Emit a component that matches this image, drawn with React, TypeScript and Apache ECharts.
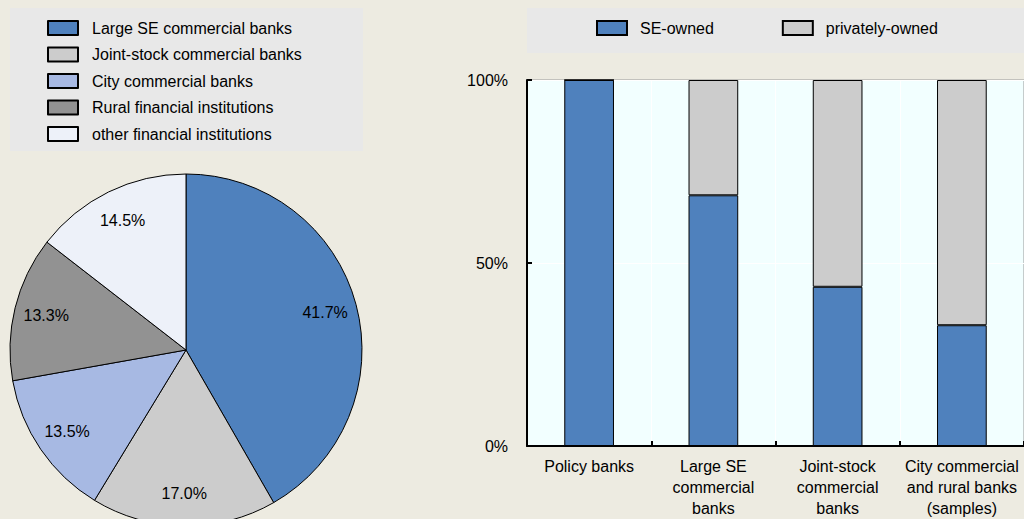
import React, { useEffect, useRef } from "react";
import * as echarts from "echarts";

const pieNames = [
  "Large SE commercial banks",
  "Joint-stock commercial banks",
  "City commercial banks",
  "Rural financial institutions",
  "other financial institutions",
];
const pieValues = [41.7, 17.0, 13.5, 13.3, 14.5];
const pieColors = ["#4F81BD", "#CCCCCC", "#A7B9E3", "#929292", "#EDF1F9"];

const barCategories = [
  "Policy banks",
  "Large SE\ncommercial\nbanks",
  "Joint-stock\ncommercial\nbanks",
  "City commercial\nand rural banks\n(samples)",
];
const seOwned = [100, 68.5, 43.5, 33];
const privatelyOwned = [0, 31.5, 56.5, 67];
const barSeriesNames = ["SE-owned", "privately-owned"];
const barColors = ["#4F81BD", "#CCCCCC"];
const yTicks = [0, 50, 100];

const FONT = "'Liberation Sans', Arial, sans-serif";

export default function App() {
  const ref = useRef<HTMLDivElement>(null);
  useEffect(() => {
    if (!ref.current) return;
    const chart = echarts.init(ref.current, null, { renderer: "svg" });
    const option: any = {
      animation: false,
      backgroundColor: "#EDEBE1",
      textStyle: { fontFamily: FONT, color: "#000" },
      graphic: [
        { type: "rect", z: -10, shape: { x: 10, y: 8, width: 353, height: 143 }, style: { fill: "#E8E8E8" } },
        { type: "rect", z: -10, shape: { x: 527, y: 8, width: 497, height: 45 }, style: { fill: "#E8E8E8" } },
      ],
      legend: [
        {
          orient: "vertical",
          left: 42,
          top: 15,
          itemWidth: 30,
          itemHeight: 14,
          itemGap: 10.5,
          icon: "rect",
          data: pieNames,
          textStyle: { fontSize: 16, fontFamily: FONT, color: "#000", padding: [0, 0, 0, 9] },
          selectedMode: false,
        },
        {
          orient: "horizontal",
          left: 591,
          top: 15,
          itemWidth: 30,
          itemHeight: 14,
          itemGap: 68,
          icon: "rect",
          data: barSeriesNames,
          textStyle: { fontSize: 16, fontFamily: FONT, color: "#000", padding: [0, 0, 0, 8] },
          selectedMode: false,
        },
      ],
      grid: {
        left: 527,
        top: 80,
        width: 502,
        height: 370,
        show: true,
        backgroundColor: "#F2FFFF",
        borderColor: "#999",
        borderWidth: 1,
        containLabel: false,
      },
      xAxis: {
        type: "category",
        data: barCategories,
        axisLine: { lineStyle: { color: "#000", width: 2 } },
        axisTick: { show: true, inside: true, length: 5, lineStyle: { color: "#000", width: 2 } },
        splitLine: { show: true, lineStyle: { color: "#FFFFFF", width: 1 } },
        axisLabel: { fontSize: 16, color: "#000", fontFamily: FONT, lineHeight: 21, margin: 10, interval: 0 },
      },
      yAxis: {
        type: "value",
        min: yTicks[0],
        max: yTicks[yTicks.length - 1],
        interval: 50,
        axisLine: { show: true, lineStyle: { color: "#000", width: 2 } },
        axisTick: { show: true, inside: true, length: 5, lineStyle: { color: "#000", width: 2 } },
        splitLine: { show: true, lineStyle: { color: "#FFFFFF", width: 1 } },
        axisLabel: { fontSize: 16, color: "#000", fontFamily: FONT, margin: 19, formatter: "{value}%" },
      },
      series: [
        {
          type: "pie",
          center: [186, 350],
          radius: [0, 176],
          startAngle: 90,
          clockwise: true,
          label: { show: false },
          labelLine: { show: false },
          silent: true,
          data: pieNames.map((n, i) => ({
            name: n,
            value: pieValues[i],
            itemStyle: { color: pieColors[i], borderColor: "#000", borderWidth: 1 },
          })),
        },
        {
          type: "pie",
          center: [186, 350],
          radius: [106, 176],
          startAngle: 90,
          clockwise: true,
          silent: true,
          itemStyle: { color: "rgba(0,0,0,0)", borderWidth: 0 },
          label: {
            show: true,
            position: "inside",
            fontSize: 16,
            color: "#000",
            fontFamily: FONT,
            formatter: (p: any) => p.value.toFixed(1) + "%",
          },
          labelLine: { show: false },
          data: pieValues.map((v) => ({ name: "", value: v })),
        },
        {
          type: "bar",
          name: barSeriesNames[0],
          stack: "own",
          barWidth: "40%",
          data: seOwned,
          itemStyle: { color: barColors[0], borderColor: "#000", borderWidth: 1 },
        },
        {
          type: "bar",
          name: barSeriesNames[1],
          stack: "own",
          barWidth: "40%",
          data: privatelyOwned,
          itemStyle: { color: barColors[1], borderColor: "#000", borderWidth: 1 },
        },
      ],
    };
    chart.setOption(option);
    return () => chart.dispose();
  }, []);
  return (
    <div
      ref={ref}
      style={{ position: "fixed", left: 0, top: 0, width: 1024, height: 519 }}
    />
  );
}
